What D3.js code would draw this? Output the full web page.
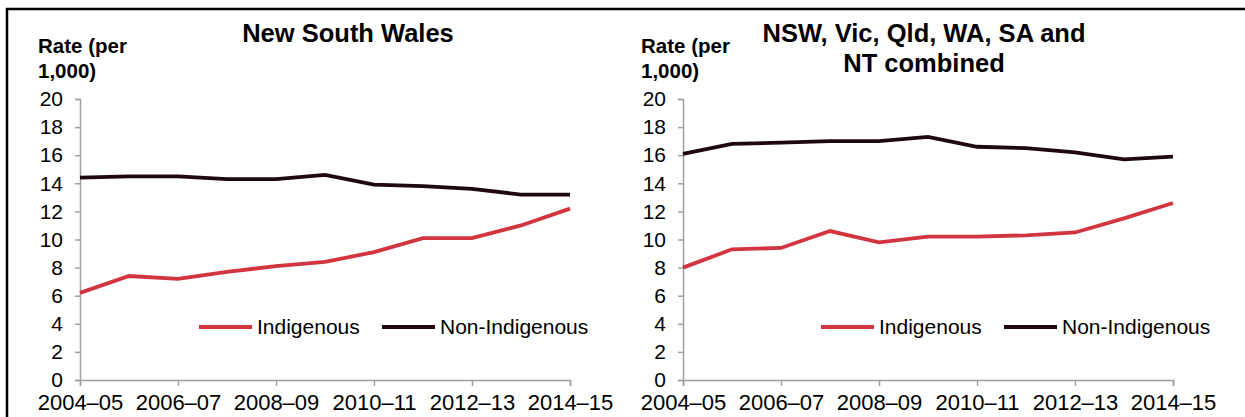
<!DOCTYPE html>
<html>
<head>
<meta charset="utf-8">
<script src="https://cdnjs.cloudflare.com/ajax/libs/d3/7.8.5/d3.min.js"></script>
<style>
	body { margin: 0; background: #fff; }
	svg { display: block; font-family: "Liberation Sans", Arial, sans-serif; }
</style>
</head>
<body>
<div id="chart"></div>
<script>
var W = 1245,
	H = 417;

var years = ["2004–05","2005–06","2006–07","2007–08","2008–09","2009–10",
			 "2010–11","2011–12","2012–13","2013–14","2014–15"]
var tickYears = ["2004–05","2006–07","2008–09","2010–11","2012–13","2014–15"]
var yTicks = [0,2,4,6,8,10,12,14,16,18,20]

var nswIndig    = [6.2, 7.4, 7.2, 7.7, 8.1, 8.4, 9.1, 10.1, 10.1, 11.0, 12.2]
var nswNonIndig = [14.4, 14.5, 14.5, 14.3, 14.3, 14.6, 13.9, 13.8, 13.6, 13.2, 13.2]
var allIndig    = [8.0, 9.3, 9.4, 10.6, 9.8, 10.2, 10.2, 10.3, 10.5, 11.5, 12.6]
var allNonIndig = [16.1, 16.8, 16.9, 17.0, 17.0, 17.3, 16.6, 16.5, 16.2, 15.7, 15.9]

var cRed   = "#D2353F",
	cBlack = "#1E0A0E",
	cAxis  = "#A0A0A0";

var panels = [
	{title: ["New South Wales"], titleX: 348, x0: 80, left: 38,
	 indig: nswIndig, non: nswNonIndig, legX: 199},
	{title: ["NSW, Vic, Qld, WA, SA and", "NT combined"], titleX: 924, x0: 683, left: 641,
	 indig: allIndig, non: allNonIndig, legX: 821}
]

var svg = d3.select("#chart").append("svg")
	.attr("width", W)
	.attr("height", H)

// frame: top and left rule
svg.append("line").attr("x1", 6).attr("x2", W).attr("y1", 9).attr("y2", 9)
	.attr("stroke", "#000").attr("stroke-width", 2.5)
svg.append("line").attr("x1", 7).attr("x2", 7).attr("y1", 8).attr("y2", H)
	.attr("stroke", "#000").attr("stroke-width", 2.5)

var y = d3.scaleLinear().domain([0, 20]).range([380, 99])

panels.forEach(function(p){
	var g = svg.append("g")

	var x = d3.scalePoint().domain(years).range([p.x0, p.x0 + 490])

	// titles
	p.title.forEach(function(t, i){
		g.append("text")
			.attr("x", p.titleX)
			.attr("y", 42 + i * 30)
			.attr("text-anchor", "middle")
			.attr("font-size", 25.5)
			.attr("font-weight", "bold")
			.text(t)
	})

	g.append("text").attr("x", p.left).attr("y", 53)
		.attr("font-size", 20.5).attr("font-weight", "bold").text("Rate (per")
	g.append("text").attr("x", p.left).attr("y", 78)
		.attr("font-size", 20.5).attr("font-weight", "bold").text("1,000)")

	// y axis
	var yAxis = g.append("g")
		.attr("transform", "translate(" + p.x0 + ",0)")
		.call(d3.axisLeft(y).tickValues(yTicks).tickSize(5).tickSizeOuter(5).tickPadding(12))
	yAxis.selectAll("path, line").attr("stroke", cAxis).attr("stroke-width", 1.5)
	yAxis.selectAll("text").attr("font-size", 21).attr("fill", "#000")
		.attr("font-family", "Liberation Sans, Arial, sans-serif")

	// x axis
	var xAxis = g.append("g")
		.attr("transform", "translate(0,380)")
		.call(d3.axisBottom(x).tickValues(tickYears).tickSize(6).tickSizeOuter(6).tickPadding(8))
	xAxis.selectAll("path, line").attr("stroke", cAxis).attr("stroke-width", 1.5)
	xAxis.selectAll("text").attr("font-size", 22).attr("fill", "#000")
		.attr("font-family", "Liberation Sans, Arial, sans-serif")

	var line = d3.line()
		.x(function(d, i){ return x(years[i]) })
		.y(function(d){ return y(d) })

	g.append("path").datum(p.non)
		.attr("d", line).attr("fill", "none")
		.attr("stroke", cBlack).attr("stroke-width", 3.8)
	g.append("path").datum(p.indig)
		.attr("d", line).attr("fill", "none")
		.attr("stroke", cRed).attr("stroke-width", 3.8)

	// legend
	var legY = 327
	g.append("line").attr("x1", p.legX).attr("x2", p.legX + 53)
		.attr("y1", legY).attr("y2", legY)
		.attr("stroke", cRed).attr("stroke-width", 3.8)
	g.append("text").attr("x", p.legX + 58).attr("y", legY + 7)
		.attr("font-size", 21).text("Indigenous")
	g.append("line").attr("x1", p.legX + 183).attr("x2", p.legX + 236)
		.attr("y1", legY).attr("y2", legY)
		.attr("stroke", cBlack).attr("stroke-width", 3.8)
	g.append("text").attr("x", p.legX + 241).attr("y", legY + 7)
		.attr("font-size", 21).text("Non-Indigenous")
})
</script>
</body>
</html>
